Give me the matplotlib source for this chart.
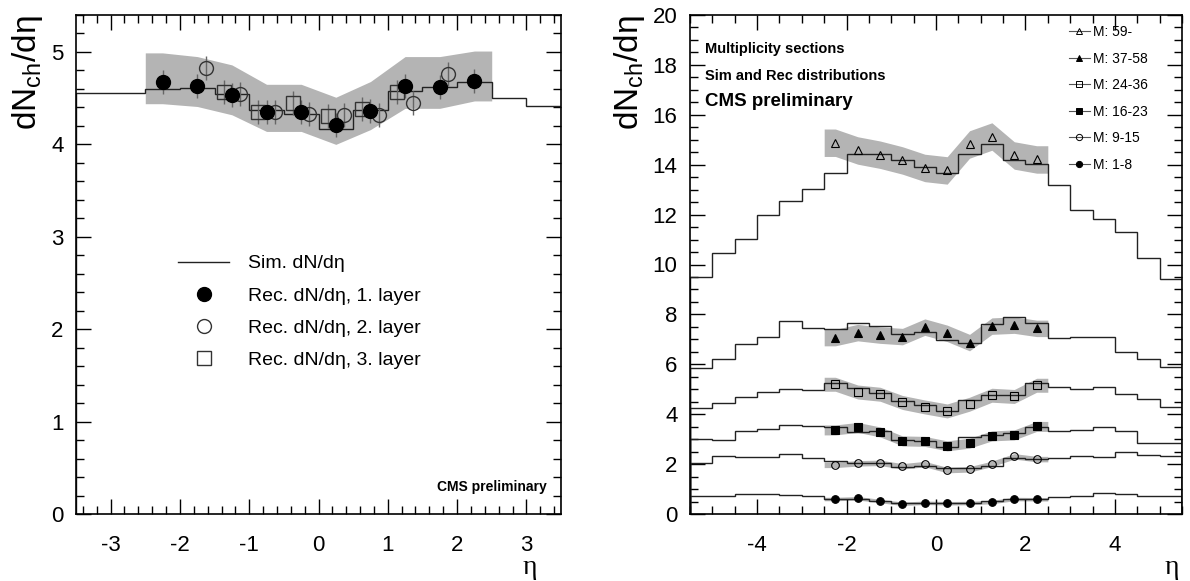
import numpy as np
import matplotlib
matplotlib.use("Agg")
import matplotlib.pyplot as plt
from matplotlib.ticker import MultipleLocator
from matplotlib.lines import Line2D

plt.rcParams['font.family'] = ['Liberation Sans', 'DejaVu Sans']
plt.rcParams['mathtext.fontset'] = 'custom'
plt.rcParams['mathtext.rm'] = 'Liberation Sans'
plt.rcParams['axes.unicode_minus'] = False

# ---------------- Left panel data ----------------
left_edges = np.arange(-3.5, 3.51, 0.5)
left_sim = [4.56, 4.56, 4.60, 4.61, 4.54, 4.37, 4.33, 4.17, 4.37, 4.58, 4.62, 4.67, 4.50, 4.42]
eta_centers = [-2.25, -1.75, -1.25, -0.75, -0.25, 0.25, 0.75, 1.25, 1.75, 2.25]
layer1 = [4.68, 4.63, 4.53, 4.35, 4.35, 4.21, 4.36, 4.63, 4.62, 4.69]
layer2_eta = [-1.75, -1.25, -0.75, -0.25, 0.25, 0.75, 1.25, 1.75]
layer2 = [4.83, 4.55, 4.35, 4.33, 4.32, 4.32, 4.45, 4.76]
layer3_eta = [-1.25, -0.75, -0.25, 0.25, 0.75, 1.25]
layer3 = [4.57, 4.35, 4.45, 4.31, 4.38, 4.57]
stat_err = 0.13
left_band_hi = [4.99, 4.95, 4.86, 4.65, 4.65, 4.51, 4.68, 4.95, 4.95, 5.01]
left_band_lo = [4.44, 4.41, 4.32, 4.14, 4.14, 4.00, 4.16, 4.39, 4.39, 4.47]

# ---------------- Right panel data ----------------
right_edges = np.arange(-5.5, 5.51, 0.5)
class_labels = ['M: 59-', 'M: 37-58', 'M: 24-36', 'M: 16-23', 'M: 9-15', 'M: 1-8']
sim_59 = [9.48, 10.47, 11.01, 12.0, 12.53, 13.01, 13.68, 14.44, 14.41, 14.2, 13.9,
          13.68, 14.44, 14.84, 14.2, 14.01, 13.2, 12.2, 11.84, 11.31, 10.27, 9.4]
sim_37 = [5.84, 6.2, 6.8, 7.09, 7.73, 7.44, 7.4, 7.64, 7.53, 7.2, 7.29,
          6.97, 6.87, 7.6, 7.91, 7.64, 7.04, 7.11, 7.09, 6.51, 6.2, 5.9]
sim_24 = [4.23, 4.43, 4.67, 4.87, 5.0, 4.96, 5.27, 5.04, 4.83, 4.53, 4.37,
          4.13, 4.56, 4.76, 4.77, 5.27, 5.09, 5.03, 5.09, 4.8, 4.6, 4.27]
sim_16 = [3.0, 2.96, 3.33, 3.4, 3.56, 3.51, 3.47, 3.27, 3.33, 2.97, 2.93,
          2.69, 3.07, 3.17, 3.23, 3.47, 3.31, 3.37, 3.47, 3.31, 2.84, 2.85]
sim_9 = [2.03, 2.33, 2.27, 2.29, 2.4, 2.23, 2.13, 2.03, 2.03, 1.87, 1.93,
         1.83, 1.83, 1.93, 2.23, 2.2, 2.24, 2.31, 2.27, 2.47, 2.37, 2.33]
sim_1 = [0.71, 0.73, 0.8, 0.8, 0.76, 0.73, 0.6, 0.6, 0.53, 0.43, 0.44,
         0.43, 0.43, 0.51, 0.6, 0.6, 0.69, 0.73, 0.84, 0.8, 0.73, 0.73]
rec_59 = [14.88, 14.57, 14.4, 14.17, 13.87, 13.77, 14.81, 15.13, 14.37, 14.21]
rec_37 = [7.07, 7.27, 7.17, 7.11, 7.49, 7.24, 6.87, 7.53, 7.57, 7.44]
rec_24 = [5.2, 4.89, 4.8, 4.47, 4.29, 4.13, 4.4, 4.76, 4.71, 5.16]
rec_16 = [3.37, 3.47, 3.29, 2.93, 2.91, 2.73, 2.84, 3.13, 3.17, 3.51]
rec_9 = [1.97, 2.03, 2.05, 1.91, 2.0, 1.76, 1.79, 2.01, 2.31, 2.2]
rec_1 = [0.6, 0.63, 0.52, 0.41, 0.45, 0.43, 0.44, 0.48, 0.6, 0.59]
band_half = [0.55, 0.33, 0.28, 0.2, 0.11, 0.07]

sims = [sim_59, sim_37, sim_24, sim_16, sim_9, sim_1]
recs = [rec_59, rec_37, rec_24, rec_16, rec_9, rec_1]
markers = ['^', '^', 's', 's', 'o', 'o']
fills = [False, True, False, True, False, True]

BAND = '#b4b4b4'
LINE = '#222222'

fig = plt.figure(figsize=(11.9, 5.81), dpi=100)
axL = fig.add_axes([76/1190, 67/581, 485/1190, 499/581])
axR = fig.add_axes([690/1190, 67/581, 492/1190, 499/581])

def band_xy(lo, hi):
    x = [-2.5] + list(eta_centers) + [2.5]
    return x, [lo[0]] + list(lo) + [lo[-1]], [hi[0]] + list(hi) + [hi[-1]]

# ---- left ----
bx, blo, bhi = band_xy(left_band_lo, left_band_hi)
axL.fill_between(bx, blo, bhi, color=BAND, lw=0, zorder=1)
axL.stairs(left_sim, left_edges, color=LINE, lw=1.0, zorder=2)
ekw = dict(ls='none', ecolor='#666666', elinewidth=1.0, capsize=0, zorder=3)
axL.errorbar(np.array(layer3_eta) - 0.12, layer3, yerr=stat_err, marker='s', ms=10,
             mfc='none', mec='#333333', mew=1.0, **ekw)
axL.errorbar(np.array(layer2_eta) + 0.12, layer2, yerr=stat_err, marker='o', ms=10,
             mfc='none', mec='#333333', mew=1.0, **ekw)
axL.errorbar(eta_centers, layer1, yerr=stat_err, marker='o', ms=10,
             mfc='black', mec='black', **ekw)
axL.set_xlim(-3.5, 3.5)
axL.set_ylim(0, 5.4)
axL.xaxis.set_major_locator(MultipleLocator(1))
axL.xaxis.set_minor_locator(MultipleLocator(0.2))
axL.yaxis.set_major_locator(MultipleLocator(1))
axL.yaxis.set_minor_locator(MultipleLocator(0.2))

hL = [Line2D([], [], color=LINE, lw=1.0),
      Line2D([], [], ls='none', marker='o', ms=10, mfc='black', mec='black'),
      Line2D([], [], ls='none', marker='o', ms=10, mfc='none', mec='#333333'),
      Line2D([], [], ls='none', marker='s', ms=10, mfc='none', mec='#333333')]
axL.legend(hL, ['Sim. dN/dη', 'Rec. dN/dη, 1. layer', 'Rec. dN/dη, 2. layer', 'Rec. dN/dη, 3. layer'],
           loc='upper left', bbox_to_anchor=(0.195, 0.535), frameon=False, fontsize=14,
           handlelength=2.6, handletextpad=1.0, labelspacing=0.75, borderaxespad=0)
axL.text(0.97, 0.055, 'CMS preliminary', transform=axL.transAxes, ha='right', va='center',
         fontsize=10, fontweight='bold')

# ---- right ----
for sim, rec, m, f, hw in zip(sims, recs, markers, fills, band_half):
    lo = np.array(rec) - hw
    hi = np.array(rec) + hw
    bx, blo, bhi = band_xy(lo, hi)
    axR.fill_between(bx, blo, bhi, color=BAND, lw=0, zorder=1)
    axR.stairs(sim, right_edges, color=LINE, lw=1.0, zorder=2)
    axR.plot(eta_centers, rec, ls='none', marker=m, ms=5.5,
             mfc='black' if f else 'none', mec='black', mew=0.8, zorder=3)
axR.set_xlim(-5.5, 5.5)
axR.set_ylim(0, 20)
axR.xaxis.set_major_locator(MultipleLocator(2))
axR.xaxis.set_minor_locator(MultipleLocator(0.5))
axR.yaxis.set_major_locator(MultipleLocator(2))
axR.yaxis.set_minor_locator(MultipleLocator(0.5))

hR = [Line2D([], [], color='#555555', lw=0.8, marker=m, ms=4.5,
             mfc='black' if f else 'none', mec='black', mew=0.7)
      for m, f in zip(markers, fills)]
axR.legend(hR, class_labels, loc='upper left', bbox_to_anchor=(0.745, 1.005), frameon=False,
           fontsize=10, handlelength=1.5, handletextpad=0.2, labelspacing=0.9)
axR.text(0.03, 0.932, 'Multiplicity sections', transform=axR.transAxes, fontsize=10.5,
         fontweight='bold', va='center')
axR.text(0.03, 0.878, 'Sim and Rec distributions', transform=axR.transAxes, fontsize=10.5,
         fontweight='bold', va='center')
axR.text(0.03, 0.826, 'CMS preliminary', transform=axR.transAxes, fontsize=13.5,
         fontweight='bold', va='center')

for ax in (axL, axR):
    ax.tick_params(which='both', direction='in', top=True, right=True, labelsize=16,
                   width=1.0, colors='black')
    ax.tick_params(which='major', length=11, pad=9)
    ax.tick_params(which='minor', length=5.5)
    ax.tick_params(axis='x', which='major', pad=15)
    for s in ax.spines.values():
        s.set_linewidth(1.2)
    ax.set_ylabel(r'dN$_{\mathregular{ch}}$/dη', fontsize=24, loc='top', labelpad=4)
    ax.set_xlabel('η', fontsize=20, family=['Liberation Serif', 'DejaVu Serif'])

axL.xaxis.set_label_coords((530 - 76) / 485, (514 - 567) / 499)
axR.xaxis.set_label_coords((1172 - 690) / 492, (514 - 567) / 499)
for ax in (axL, axR):
    ax.xaxis.label.set_verticalalignment('center')
    ax.xaxis.label.set_horizontalalignment('center')

fig.savefig('out.png', dpi=100)
